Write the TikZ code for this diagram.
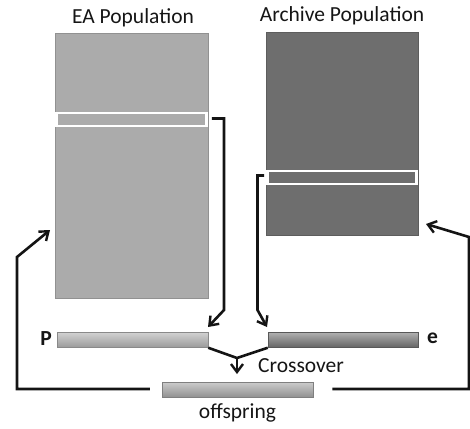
\documentclass[tikz,border=0pt]{standalone}
\usepackage{fontspec}
\setmainfont{Carlito}
\usetikzlibrary{arrows.meta,calc}
\definecolor{eagrey}{HTML}{ABABAB}
\definecolor{argrey}{HTML}{6E6E6E}
\definecolor{txt}{HTML}{151515}
\tikzset{
  popbox/.style={rectangle, inner sep=0pt, draw=#1!85!black, line width=0.8pt, fill=#1},
  stripe/.style={rectangle, inner sep=0pt, draw=white, line width=2.6pt, fill=#1},
  genebar/.style={rectangle, inner sep=0pt, minimum height=15pt, draw=#1!80!black, line width=0.5pt, top color=#1!55!white, bottom color=#1!90!black},
  lbl/.style={font=\fontsize{21.5}{25}\selectfont, text=txt, inner sep=0pt},
  blbl/.style={font=\fontsize{21.5}{25}\selectfont\bfseries, text=txt, inner sep=0pt},
  conn/.style={line width=2.6pt, draw=black!92},
  arr/.style={conn, -{Straight Barb[length=8pt,width=12pt,line width=2.4pt]}},
}
\begin{document}
\begin{tikzpicture}[x=1pt,y=-1pt]
\useasboundingbox (0,0) rectangle (470,428);
% populations
\node[popbox=eagrey, minimum width=153pt, minimum height=265pt] (ea) at (131.5,165.5) {};
\node[popbox=argrey, minimum width=152pt, minimum height=203pt] (ar) at (342,133.5) {};
\node[stripe=eagrey, minimum width=150pt, minimum height=13pt] (eas) at (131.5,119.5) {};
\node[stripe=argrey, minimum width=149pt, minimum height=13pt] (ars) at (342,177.5) {};
\node[lbl] (eal) at (133,18) {EA Population};
\node[lbl] (arl) at (342,16) {Archive Population};
% gene bars
\node[genebar=eagrey, minimum width=151pt] (p) at (132.5,340) {};
\node[genebar=argrey, minimum width=150pt] (e) at (343,340) {};
\node[genebar=eagrey!80!argrey, minimum width=151pt] (off) at (237.5,390) {};
\node[blbl, anchor=east] (pl) at (52,339) {P};
\node[blbl, anchor=west] (el) at (427,338) {e};
\node[lbl, anchor=west] (cl) at (258,366) {Crossover};
\node[lbl] (ol) at (237.5,413) {offspring};
% selection arrows
\coordinate (t1) at (208,327);
\coordinate (t2) at (267,327);
\draw[arr] ($(eas.east)+(4,-1)$) -- (224,118.5) -- (224,310) -- (t1);
\draw[arr] ($(ars.west)+(-2,-2)$) -- (257.5,175.5) -- (257.5,310) -- (t2);
% crossover
\coordinate (cx) at (237,358);
\draw[conn] (p.south east) -- (cx) -- (e.south west);
\draw[arr] (cx) -- (237,374);
% feedback loops
\coordinate (fl) at (50,230);
\coordinate (fr) at (426,224);
\draw[arr] ($(off.west)+(-12,-1)$) -- (17,389) -- (17,257) -- (fl);
\draw[arr] ($(off.east)+(19,-1)$) -- (469,389) -- (469,237) -- (fr);
\end{tikzpicture}
\end{document}
